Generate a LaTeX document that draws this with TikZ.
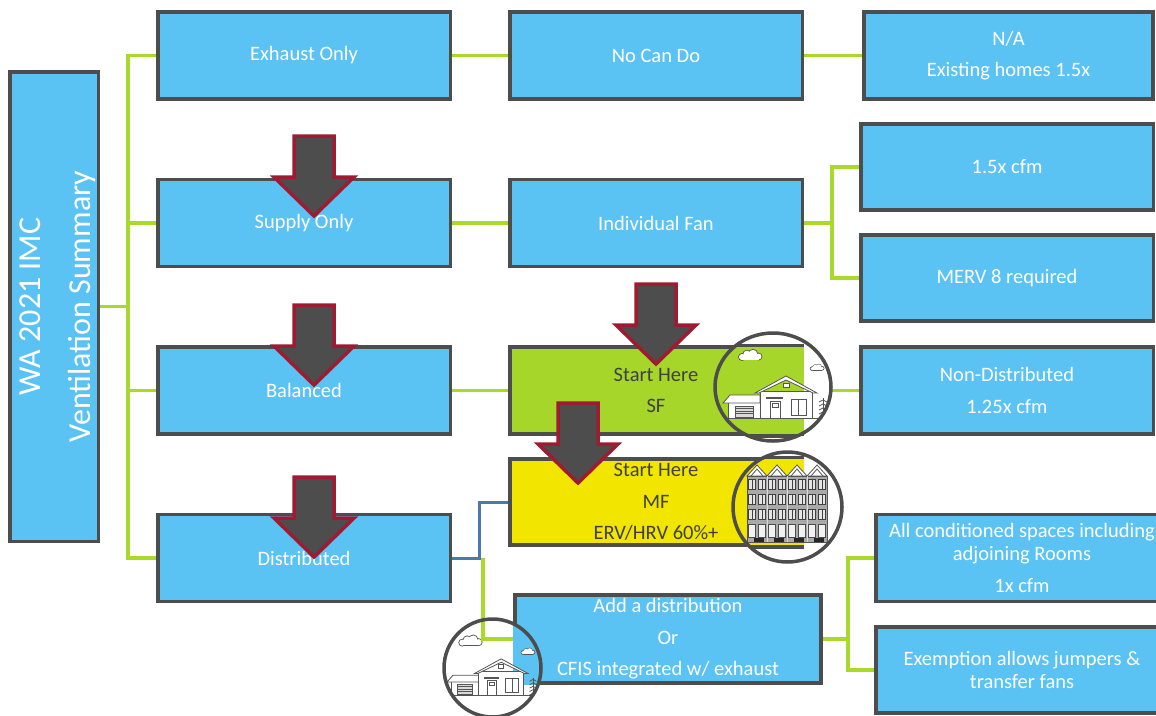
\documentclass[tikz,border=0pt]{standalone}
\usepackage{fontspec}
\setmainfont{Carlito}
\usetikzlibrary{backgrounds}
\definecolor{boxblue}{HTML}{5BC2F4}
\definecolor{edgegray}{HTML}{4D4D4D}
\definecolor{linkgreen}{HTML}{A9D92B}
\definecolor{linkblue}{HTML}{4A78B0}
\definecolor{sfgreen}{HTML}{A6D62A}
\definecolor{mfyellow}{HTML}{F2E600}
\definecolor{darktext}{HTML}{404040}
\definecolor{crimson}{HTML}{9E1B32}
\definecolor{arrowfill}{HTML}{4D4D4D}
\definecolor{ink}{HTML}{555555}
\definecolor{facade}{HTML}{A9A9A9}
\begin{document}
\begin{tikzpicture}[x=1pt,y=-1pt,
  box/.style={draw=edgegray, line width=3.5pt, fill=boxblue, text=white,
    align=center, inner sep=0pt, minimum width=292.5pt, minimum height=87pt,
    font=\fontsize{20.5}{31.5}\selectfont},
  sfbox/.style={box, fill=sfgreen, text=darktext},
  mfbox/.style={box, fill=mfyellow, text=darktext},
  gline/.style={draw=linkgreen, line width=3.5pt},
  bline/.style={draw=linkblue, line width=3pt},
  ring/.style={draw=edgegray, line width=3.5pt},
  sk/.style={draw=ink, line width=0.8pt},
  bigdown/.pic={
    \draw[draw=crimson, fill=arrowfill, line width=3.5pt, line join=miter]
      (-20,0) -- (20,0) -- (20,41) -- (40,41) -- (0,80) -- (-40,41)
      -- (-20,41) -- cycle;},
  puff/.pic={
    \foreach \px/\py/\pr in {-8/1/3, -3/-1.5/3.8, 3/-2/4.2, 8.5/0.5/3}
      {\fill[ink] (\px,\py) circle (\pr+0.9);}
    \fill[ink] (-8,0) rectangle (8.5,4.4);
    \foreach \px/\py/\pr in {-8/1/3, -3/-1.5/3.8, 3/-2/4.2, 8.5/0.5/3}
      {\fill[white] (\px,\py) circle (\pr);}
    \fill[white] (-8,0) rectangle (8.5,3.5);},
  cottage/.pic={
    \pic at (-23,-33) {puff};
    \pic[scale=0.6] at (44,-21) {puff};
    % shrub on the right
    \draw[sk] (50,29) -- (50,9);
    \foreach \ty in {11,15,19,23,27}
      {\draw[sk] (46,\ty+2) -- (50,\ty) -- (54,\ty+2);}
    % garage wing
    \draw[sk, fill=white] (-45,13) rectangle (-13,29);
    \draw[sk, fill=white] (-50,14) -- (-43,6) -- (-13,6) -- (-13,14) -- cycle;
    \draw[sk, fill=black!15] (-38,17) rectangle (-20,28);
    \foreach \gy in {19.5,22,24.5} {\draw[sk] (-38,\gy) -- (-20,\gy);}
    % main house
    \draw[sk, fill=white] (-13,2) rectangle (39,29);
    \draw[sk, fill=white] (-18,4) -- (13,-13) -- (44,4) -- (40,4) -- (13,-9)
      -- (-14,4) -- cycle;
    \draw[sk, fill=white] (10,-6) rectangle (16,-2);
    \draw[draw=ink, line width=1.6pt] (-7,9) -- (10,9);
    \draw[sk, fill=white] (-3,12) rectangle (7,29);
    \draw[sk] (-1,14) rectangle (5,18);
    \draw[sk, fill=white] (18,10) rectangle (33,26);
    \draw[sk] (25.5,10) -- (25.5,26);
    \draw[sk] (-56,29) -- (54,29);},
  flats/.pic={
    \foreach \gi in {0,...,3}
      {\draw[sk, fill=white] (-41+20*\gi,-31) -- (-31+20*\gi,-42)
        -- (-21+20*\gi,-31) -- cycle;
       \draw[sk] (-37+20*\gi,-31) -- (-31+20*\gi,-38) -- (-25+20*\gi,-31);}
    \draw[sk, fill=facade] (-41,-31) rectangle (39,35);
    \foreach \ry in {-28,-13,2}
      {\foreach \ci in {0,...,7}
        {\draw[draw=black!75, line width=0.7pt, fill=white!80!gray]
           (-39.5+10*\ci,\ry) rectangle ++(7,10);
         \draw[draw=black!75, line width=0.7pt] (-36+10*\ci,\ry) -- ++(0,10);}}
    \foreach \ci in {0,...,7}
      {\draw[draw=black!70, line width=0.7pt, fill=white!90!gray]
         (-39.5+10*\ci,17) rectangle ++(7,13);}
    \foreach \ui in {1,2,3} {\draw[draw=white!70!gray, line width=1pt]
      (-41+20*\ui,-31) -- (-41+20*\ui,35);}
    \foreach \sx in {-34,-14,6,26}
      {\fill[black!85] (\sx,31) rectangle ++(10,4);}}
]
\useasboundingbox (0,0) rectangle (1156,715);

% junction columns of the connectors
\coordinate (trunk) at (128,0);
\coordinate (fanjoin) at (832,0);
\coordinate (addjoin) at (848,0);
\coordinate (bluejoin) at (479,0);
\coordinate (greenjoin) at (483,0);

% boxes
\node[box, minimum width=88.5pt, minimum height=469.5pt] (title) at (54,306.5) {};
\node[text=white, rotate=90, align=center, inner sep=0pt,
  font=\fontsize{32}{50}\selectfont] (titletext) at (58,306.5)
  {WA 2021 IMC\\Ventilation Summary};

\node[box] (exh)  at (304,55.5) {Exhaust Only};
\node[box] (sup)  at (304,223)  {Supply Only};
\node[box] (bal)  at (304,390.5) {Balanced};
\node[box] (dist) at (304,558)  {Distributed};

\node[box] (nocan) at (656,55.5) {No Can Do};
\node[box] (fan)   at (656,223)  {Individual Fan};
\node[sfbox] (sf)  at (656,390.5) {Start Here\\SF};
\node[mfbox, minimum height=86pt] (mf) at (656,502) {Start Here\\MF\\ERV/HRV 60\%+};
\node[box, minimum width=306pt, minimum height=88pt] (add) at (668,639)
  {Add a distribution\\Or\\CFIS integrated w/ exhaust};

\node[box, minimum width=289pt] (na) at (1008.5,55.5) {N/A\\Existing homes 1.5x};
\node[box, minimum height=86pt] (cfm)  at (1007,167) {1.5x cfm};
\node[box, minimum height=86pt] (merv) at (1007,278) {MERV 8 required};
\node[box] (nondist) at (1007,390.5) {Non-Distributed\\1.25x cfm};
\node[box, font=\fontsize{20.5}{23}\selectfont] (allc) at (1022,558)
  {All conditioned spaces including\\adjoining Rooms\\[9pt]1x cfm};
\node[box, minimum height=86pt, font=\fontsize{20.5}{23}\selectfont] (exem)
  at (1022,670) {Exemption allows jumpers \&\\transfer fans};

% connectors, behind the boxes
\begin{pgfonlayer}{background}
  \draw[gline] (title.east) -- (title.east -| trunk);
  \draw[gline] (exh.west) -- (exh.west -| trunk) -- (dist.west -| trunk) -- (dist.west);
  \draw[gline] (sup.west) -- (sup.west -| trunk);
  \draw[gline] (bal.west) -- (bal.west -| trunk);
  \draw[gline] (exh) -- (nocan);
  \draw[gline] (nocan) -- (na);
  \draw[gline] (sup) -- (fan);
  \draw[gline] (bal) -- (sf);
  \draw[gline] (sf) -- (nondist);
  \draw[gline] (fan.east) -- (fan.east -| fanjoin);
  \draw[gline] (cfm.west) -- (cfm.west -| fanjoin) -- (merv.west -| fanjoin) -- (merv.west);
  \draw[gline] (add.east) -- (add.east -| addjoin);
  \draw[gline] (allc.west) -- (allc.west -| addjoin) -- (exem.west -| addjoin) -- (exem.west);
  \draw[bline] (dist.east) -- (dist.east -| bluejoin) -- (mf.west -| bluejoin) -- (mf.west);
\end{pgfonlayer}

% pointer arrows
\pic at (314,136) {bigdown};
\pic at (314,305) {bigdown};
\pic at (314,477) {bigdown};
\pic at (656,284) {bigdown};
\pic at (578,403) {bigdown};

% single-family picture
\begin{scope}
  \clip (773,387) ellipse [x radius=58, y radius=54];
  \fill[white] (700,320) rectangle (850,460);
  \fill[sfgreen] (sf.north west) rectangle (sf.south east);
  \draw[draw=edgegray, line width=3.5pt] (sf.north west) -- (sf.north east);
  \draw[draw=edgegray, line width=3.5pt] (sf.south west) -- (sf.south east);
  \pic at (773,389) {cottage};
\end{scope}
\draw[ring] (773,387) ellipse [x radius=58, y radius=54];

% multi-family picture
\begin{scope}
  \clip (787.5,507) ellipse [x radius=54.5, y radius=55];
  \fill[white] (720,440) rectangle (860,580);
  \fill[mfyellow] (mf.north west) rectangle (mf.south east);
  \draw[draw=edgegray, line width=3.5pt] (mf.north west) -- (mf.north east);
  \draw[draw=edgegray, line width=3.5pt] (mf.south west) -- (mf.south east);
  \pic at (788,507) {flats};
\end{scope}
\draw[ring] (787.5,507) ellipse [x radius=54.5, y radius=55];

% single-family picture by the distribution box
\begin{scope}
  \clip (492.5,668) ellipse [x radius=48.5, y radius=49];
  \fill[white] (430,610) rectangle (560,730);
  \fill[boxblue] (add.north west) rectangle (add.south east);
  \pic[scale=0.86] at (490,670) {cottage};
\end{scope}
\draw[gline] (dist.east -| greenjoin) -- (add.west -| greenjoin) -- (add.west);
\draw[ring] (492.5,668) ellipse [x radius=48.5, y radius=49];

\end{tikzpicture}
\end{document}
